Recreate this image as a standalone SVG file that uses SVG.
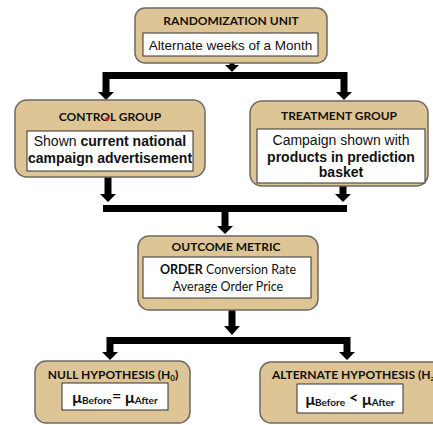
<svg xmlns="http://www.w3.org/2000/svg" width="433" height="425" viewBox="0 0 433 425">
<style>
.node{fill:#DEC596;stroke:#6e6a64;stroke-width:1.5}
.inner{fill:#fff;stroke:#333;stroke-width:1}
.title{font-family:Lato,"Open Sans",sans-serif;font-weight:700;font-size:12px;fill:#111;text-anchor:middle}
.body{font-family:"Liberation Sans",Arial,sans-serif;font-size:14px;fill:#111;text-anchor:middle}
.cal{font-family:Lato,"Open Sans",sans-serif;font-size:12.5px;fill:#111;text-anchor:middle}
.b{font-weight:700}
.line{fill:none;stroke:#000;stroke-width:7;stroke-linejoin:miter}
.head{fill:#000}
</style>
<rect width="433" height="425" fill="#fff"/>
<g id="connectors">
  <path class="line" style="stroke-width:5" d="M232,63 V66"/>
  <polygon class="head" points="225,65 239,65 232,72"/>
  <path class="line" d="M106,93 V75.5 H344 V93"/>
  <polygon class="head" points="98,92 114,92 106,100"/>
  <polygon class="head" points="336,92 352,92 344,100"/>
  <path class="line" d="M108,177 V195"/>
  <polygon class="head" points="100,194 116,194 108,202"/>
  <path class="line" d="M343,186 V195"/>
  <polygon class="head" points="335,194 351,194 343,202"/>
  <path class="line" d="M103,208.5 H347"/>
  <path class="line" d="M225,212 V227"/>
  <polygon class="head" points="217,226 233,226 225,234"/>
  <path class="line" d="M232,310 V327"/>
  <polygon class="head" points="224,326 240,326 232,335"/>
  <path class="line" d="M110,353 V340.5 H347 V353"/>
  <polygon class="head" points="102,352 118,352 110,360"/>
  <polygon class="head" points="339,352 355,352 347,360"/>
</g>
<g id="randomization">
  <rect class="node" x="135" y="8" width="192" height="55" rx="10"/>
  <text class="title" x="231" y="25">RANDOMIZATION UNIT</text>
  <rect class="inner" x="143" y="33" width="175" height="23"/>
  <text class="body" x="230.5" y="50" style="font-size:13.5px">Alternate weeks of a Month</text>
</g>
<g id="control">
  <rect class="node" x="15" y="100" width="190" height="77" rx="12"/>
  <text class="title" x="110" y="121">CONTROL GROUP</text>
  <circle cx="107" cy="119" r="2" fill="#e8202a"/>
  <rect class="inner" x="27" y="131" width="166" height="40"/>
  <text class="body" x="110" y="146">Shown <tspan class="b">current national</tspan></text>
  <text class="body b" x="110" y="163">campaign advertisement</text>
</g>
<g id="treatment">
  <rect class="node" x="250" y="101" width="178" height="85" rx="12"/>
  <text class="title" x="339" y="120">TREATMENT GROUP</text>
  <rect class="inner" x="257" y="129" width="168" height="54"/>
  <text class="body" x="341" y="145">Campaign shown with</text>
  <text class="body b" x="341" y="162">products in prediction</text>
  <text class="body b" x="341" y="177">basket</text>
</g>
<g id="outcome">
  <rect class="node" x="138" y="236" width="180" height="74" rx="11"/>
  <text class="title" x="226" y="251">OUTCOME METRIC</text>
  <rect class="inner" x="143" y="257" width="168" height="41"/>
  <text class="cal" x="228" y="274"><tspan class="b">ORDER</tspan> Conversion Rate</text>
  <text class="cal" x="228" y="291">Average Order Price</text>
</g>
<g id="null">
  <rect class="node" x="35" y="361" width="155" height="62" rx="11"/>
  <text class="title" x="113" y="379">NULL HYPOTHESIS (H<tspan font-size="8" dy="2">0</tspan><tspan dy="-2">)</tspan></text>
  <rect class="inner" x="62" y="383" width="106" height="27"/>
  <text class="cal b" x="115" y="403" style="font-size:16px">μ<tspan font-size="10" dy="1">Before</tspan><tspan dy="-3">=</tspan> <tspan dy="2">μ</tspan><tspan font-size="10" dy="1">After</tspan></text>
</g>
<g id="alternate">
  <rect class="node" x="260" y="362" width="190" height="61" rx="11"/>
  <text class="title" x="272" y="379" style="text-anchor:start">ALTERNATE HYPOTHESIS (H<tspan font-size="8" dy="2">a</tspan><tspan dy="-2">)</tspan></text>
  <rect class="inner" x="297" y="384" width="106" height="29"/>
  <text class="cal b" x="350" y="405" style="font-size:16px">μ<tspan font-size="10" dy="1">Before</tspan><tspan dy="-3"> &lt; </tspan><tspan dy="2">μ</tspan><tspan font-size="10" dy="1">After</tspan></text>
</g>
</svg>
